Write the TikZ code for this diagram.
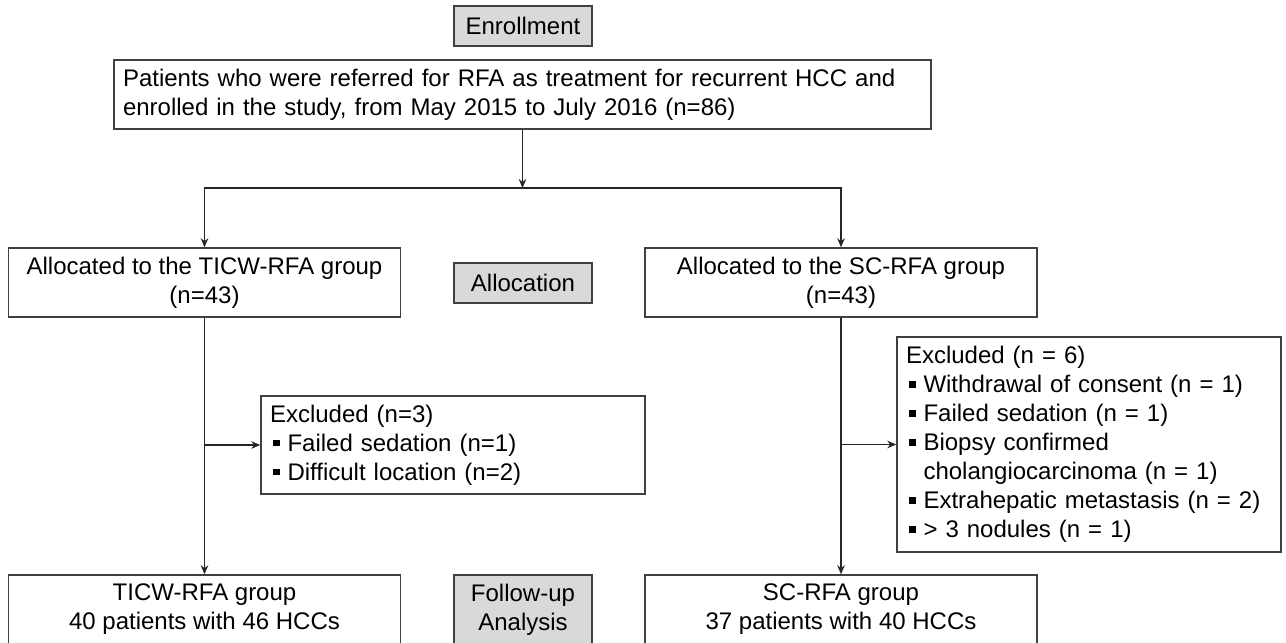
\documentclass[tikz,border=0pt]{standalone}
\usepackage{fontspec}
\setmainfont{Liberation Sans}
\usepackage{tikz}
\usetikzlibrary{arrows.meta}

\definecolor{cinza}{HTML}{D9D9D9}
\newcommand{\marca}{\hspace*{3pt}\rule[5pt]{6.5pt}{6.5pt}\hspace{8pt}}
\newcommand{\recuo}{\hspace*{17.5pt}}

\tikzset{
  caixa/.style={draw=black!75, line width=1.4pt, inner xsep=9pt, inner ysep=0pt, minimum height=69pt},
  grupo/.style={caixa, minimum width=392pt, align=center},
  exclusao/.style={caixa, minimum width=384pt, text width=366pt, align=left},
  etapa/.style={caixa, fill=cinza, minimum width=138pt, align=center},
  fluxo/.style={draw=black!85, line width=1.4pt}
}

\begin{document}
\begin{tikzpicture}[x=1pt, y=-1pt, >={Stealth[length=9pt, width=7.5pt]},
    font=\fontsize{24pt}{29pt}\selectfont]
    % Moldura (a figura original corta a base das caixas finais)
    \useasboundingbox (0,0) rectangle (1286,643);
    \clip (0,0) rectangle (1286,643);

    % Inclusao
    \node[etapa, minimum height=40pt] (insc) at (523,26) {Enrollment};
    \node[caixa, minimum width=817pt, text width=799pt, align=left] (pac) at (522.5,94.5)
        {Patients who were referred for RFA as treatment for recurrent HCC and\\
         enrolled in the study, from May 2015 to July 2016 (n=86)};

    % Alocacao
    \node[grupo] (ticw) at (204.5,282.5) {Allocated to the TICW-RFA group\\(n=43)};
    \node[etapa, minimum height=40pt] (aloc) at (523,283) {Allocation};
    \node[grupo] (sc) at (841,282.5) {Allocated to the SC-RFA group\\(n=43)};

    % Exclusoes
    \node[exclusao, minimum height=98pt] (excE) at (453,445)
        {Excluded (n=3)\\
         \marca Failed sedation (n=1)\\
         \marca Difficult location (n=2)};
    \node[exclusao, minimum height=215pt] (excD) at (1089,444.5)
        {Excluded (n = 6)\\
         \marca Withdrawal of consent (n = 1)\\
         \marca Failed sedation (n = 1)\\
         \marca Biopsy confirmed\\
         \recuo cholangiocarcinoma (n = 1)\\
         \marca Extrahepatic metastasis (n = 2)\\
         \marca > 3 nodules (n = 1)};

    % Seguimento
    \node[grupo] (ticwF) at (204.5,609.5) {TICW-RFA group\\40 patients with 46 HCCs};
    \node[etapa] (seg) at (523,609.5) {Follow-up\\Analysis};
    \node[grupo] (scF) at (841,609.5) {SC-RFA group\\37 patients with 40 HCCs};

    % Setas
    \coordinate (ramo) at (pac.south |- 0,188);
    \draw[fluxo, ->] (pac.south) -- (ramo);
    \draw[fluxo, ->] (ramo) -| (ticw.north);
    \draw[fluxo, ->] (ramo) -| (sc.north);
    \draw[fluxo, ->] (ticw.south) -- (ticwF.north);
    \draw[fluxo, ->] (sc.south) -- (scF.north);
    \coordinate (desvioE) at (ticw.south |- excE.west);
    \coordinate (desvioD) at (sc.south |- excD.west);
    \draw[fluxo, ->] (desvioE) -- (excE.west);
    \draw[fluxo, ->] (desvioD) -- (excD.west);
\end{tikzpicture}
\end{document}
